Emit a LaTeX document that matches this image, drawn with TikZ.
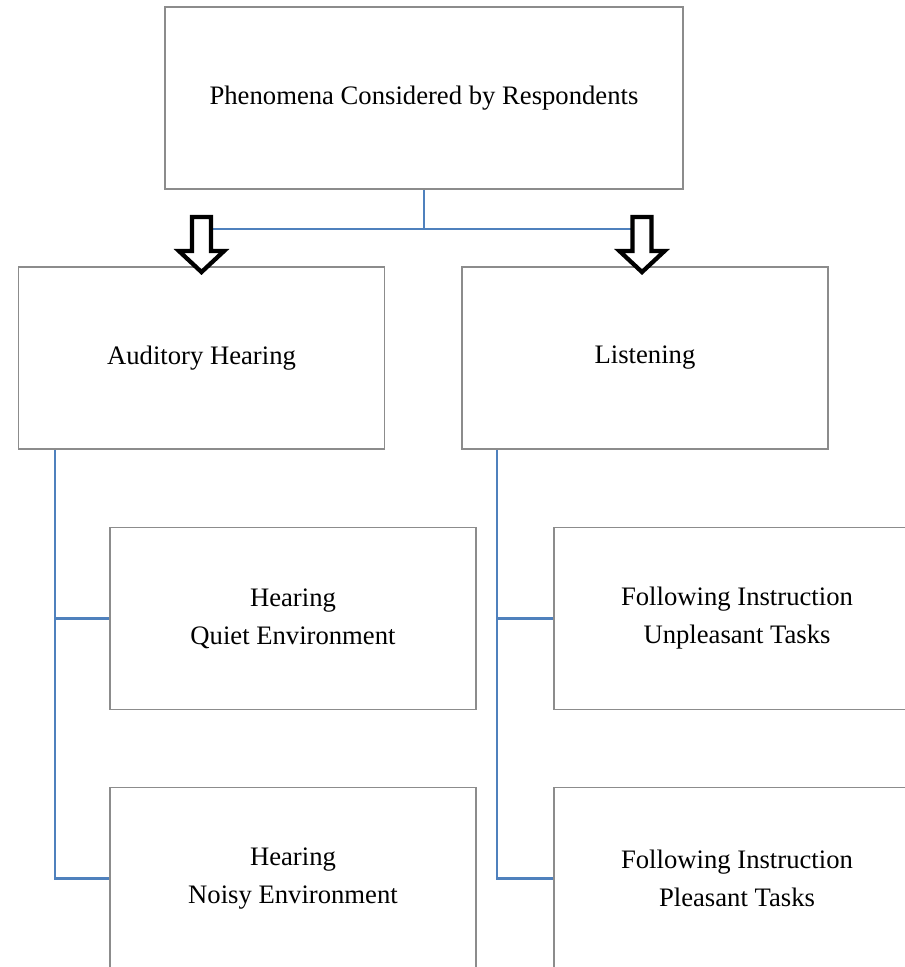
\documentclass[tikz,border=0pt]{standalone}
\usepackage{fontspec}
\setmainfont{Liberation Serif}
\definecolor{framegray}{RGB}{140,140,140}
\definecolor{linkblue}{RGB}{79,129,189}
\begin{document}
\begin{tikzpicture}[x=0.75pt,y=-0.75pt,
  box/.style={draw=framegray,line width=1.1pt,fill=white,rectangle,
    minimum width=274.5pt,minimum height=136.8pt,inner sep=0pt,align=center,
    font=\fontsize{20}{28.5}\selectfont},
  link/.style={draw=linkblue,line width=1.8pt},
  hollowdown/.pic={\draw[line width=3.2pt,fill=white,line join=miter,miter limit=10]
    (-9.5,0) -- (-9.5,34) -- (-22.5,34) -- (0,55) -- (22.5,34) -- (9.5,34) -- (9.5,0) -- cycle;}]
\useasboundingbox (0,0) rectangle (905,967);
\clip (0,0) rectangle (905,967);

% boxes
\node[box,minimum width=388.5pt] (top) at (424,98) {Phenomena Considered by Respondents};
\node[box] (aud) at (201.5,358) {Auditory Hearing};
\node[box] (lis) at (645,358) {Listening};
\node[box] (quiet) at (293,618.5) {Hearing\\Quiet Environment};
\node[box] (noisy) at (293,878.5) {Hearing\\Noisy Environment};
\node[box] (unpl) at (737,618.5) {Following Instruction\\Unpleasant Tasks};
\node[box] (pleas) at (737,878.5) {Following Instruction\\Pleasant Tasks};

% top split
\coordinate (split) at ([yshift=-29.25pt]top.south);
\coordinate (al) at ([yshift=36.75pt]aud.north);
\coordinate (ar) at ([xshift=-2.25pt,yshift=36.75pt]lis.north);
\draw[link] (top.south) -- (split);
\draw[link] (al |- split) -- (ar |- split);
\pic at (al) {hollowdown};
\pic at (ar) {hollowdown};

% left column trunk
\coordinate (lt) at ([xshift=27.75pt]aud.south west);
\draw[link] (lt) -- (lt |- noisy.west) -- (noisy.west);
\draw[link] (lt |- quiet.west) -- (quiet.west);

% right column trunk
\coordinate (rt) at ([xshift=27pt]lis.south west);
\draw[link] (rt) -- (rt |- pleas.west) -- (pleas.west);
\draw[link] (rt |- unpl.west) -- (unpl.west);
\end{tikzpicture}
\end{document}
